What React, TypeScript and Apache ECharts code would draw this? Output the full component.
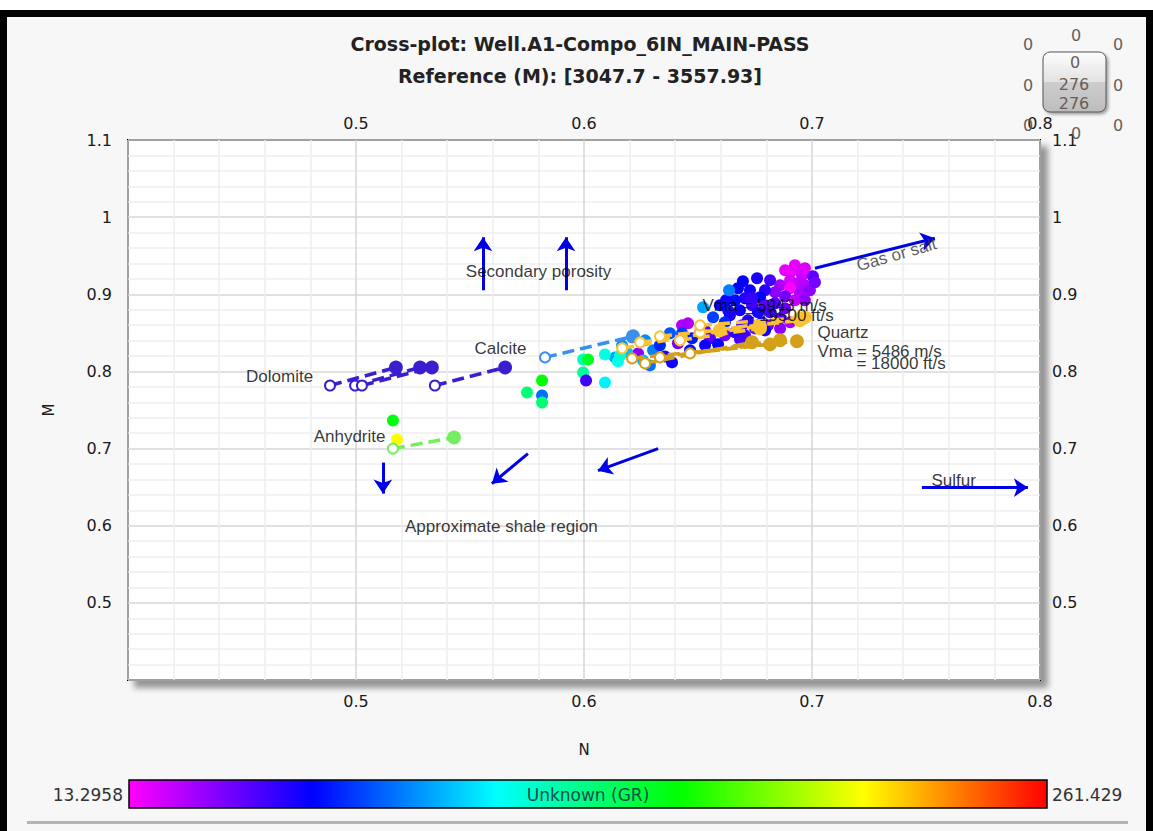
import React, { useEffect, useRef } from "react";
import * as echarts from "echarts";

// ---- Axis ranges ----
const nRange = [0.4, 0.8];
const mRange = [0.4, 1.1];
const grRange = [13.2958, 261.429];

// ---- Log samples: [N, M, GR] ----
const upperCluster = [
  [0.6882, 0.9312, 18], [0.6917, 0.9312, 16], [0.6956, 0.9247, 22], [0.7004, 0.9234, 45],
  [0.6904, 0.9182, 20], [0.6939, 0.9143, 25], [0.686, 0.9117, 30], [0.6969, 0.9117, 28],
  [0.6904, 0.9078, 14], [0.6816, 0.9182, 50], [0.6838, 0.9026, 35], [0.6947, 0.9013, 30],
  [0.6882, 0.8974, 40], [0.6794, 0.9052, 55], [0.6991, 0.9052, 35],
  [0.6925, 0.9377, 18], [0.6969, 0.9338, 20], [0.7013, 0.9156, 40], [0.6925, 0.8922, 25],
  [0.6969, 0.8922, 35],
  [0.6697, 0.9169, 62], [0.6759, 0.9208, 58], [0.6728, 0.9052, 60], [0.6706, 0.8948, 55],
  [0.6772, 0.8961, 63], [0.6737, 0.8857, 50], [0.6794, 0.8857, 45], [0.6838, 0.8883, 48],
  [0.6684, 0.8792, 60], [0.6763, 0.8766, 58], [0.6816, 0.8766, 50], [0.6882, 0.8818, 42],
  [0.6719, 0.8662, 55], [0.6781, 0.8636, 60], [0.686, 0.8688, 45], [0.6662, 0.8922, 65],
  [0.6632, 0.8792, 68], [0.6675, 0.9078, 63], [0.6623, 0.8922, 60], [0.6737, 0.8948, 52],
  [0.6596, 0.8857, 62], [0.664, 0.8727, 58], [0.6693, 0.8597, 50], [0.675, 0.8558, 45],
  [0.6807, 0.8597, 40], [0.686, 0.8558, 35], [0.6904, 0.8636, 30], [0.6794, 0.8532, 60],
  [0.6531, 0.8532, 45], [0.6618, 0.8468, 40], [0.6684, 0.8416, 48],
];

const midCluster = [
  [0.6636, 0.9052, 88], [0.6522, 0.8831, 95], [0.6566, 0.8701, 75], [0.6618, 0.8636, 70],
  [0.6509, 0.8506, 50], [0.6553, 0.8429, 45], [0.6596, 0.8532, 40], [0.6531, 0.8338, 60],
  [0.6588, 0.8351, 62], [0.6662, 0.8506, 55], [0.6706, 0.8468, 50],
  [0.643, 0.8597, 28], [0.6456, 0.8623, 30], [0.6377, 0.8494, 80], [0.643, 0.8494, 75],
  [0.6412, 0.8364, 40], [0.6474, 0.8429, 68], [0.6237, 0.8234, 35], [0.6303, 0.8273, 88],
  [0.6259, 0.8143, 98], [0.6289, 0.8078, 85], [0.6189, 0.8247, 100], [0.6211, 0.8442, 88],
  [0.6333, 0.8338, 70], [0.6355, 0.8195, 55], [0.6386, 0.8117, 60], [0.6465, 0.8273, 65],
  [0.6268, 0.8403, 90], [0.6136, 0.8182, 95], [0.6167, 0.8338, 92],
];

const lowerScatter = [
  [0.6092, 0.8221, 118], [0.6149, 0.813, 115], [0.6092, 0.7857, 110], [0.6158, 0.8208, 120],
  [0.5816, 0.7883, 162], [0.575, 0.7727, 140], [0.5816, 0.7688, 85], [0.5816, 0.7597, 140],
  [0.5996, 0.8156, 125], [0.6018, 0.8156, 155], [0.5996, 0.7987, 132], [0.6009, 0.7883, 50],
  [0.5162, 0.7364, 160], [0.518, 0.7117, 212],
];

// ---- Lithology lines: [start, end] in (N, M) ----
const dolomiteLines = [
  [[0.4886, 0.7818], [0.5175, 0.8052]],
  [[0.4996, 0.7818], [0.5281, 0.8052]],
  [[0.5026, 0.7818], [0.5333, 0.8052]],
  [[0.5346, 0.7818], [0.5654, 0.8052]],
];
const calciteLines = [[[0.5829, 0.8182], [0.6215, 0.8455]]];
const anhydriteLines = [[[0.5162, 0.7], [0.543, 0.7143]]];
const quartzLines = [
  [[0.6167, 0.8299], [0.6596, 0.8532]],
  [[0.6246, 0.8377], [0.6772, 0.8584]],
  [[0.6333, 0.8455], [0.6947, 0.8662]],
  [[0.6509, 0.8506], [0.6947, 0.8688]],
  [[0.6509, 0.8597], [0.6969, 0.8701]],
  [[0.6421, 0.8403], [0.6772, 0.8558]],
];
const quartzLowLines = [
  [[0.6211, 0.8169], [0.6934, 0.839]],
  [[0.6268, 0.8104], [0.6737, 0.8377]],
  [[0.6333, 0.8182], [0.686, 0.8403]],
  [[0.6465, 0.8234], [0.6816, 0.8351]],
];

// ---- Trend arrows ----
const trendArrows = [
  [[0.5557, 0.9052], [0.5557, 0.974]],
  [[0.5921, 0.9052], [0.5921, 0.974]],
  [[0.5118, 0.6818], [0.5118, 0.6416]],
  [[0.5754, 0.6935], [0.5596, 0.6545]],
  [[0.6325, 0.7], [0.6061, 0.6714]],
  [[0.7013, 0.9338], [0.7539, 0.9727]],
  [[0.7482, 0.6494], [0.7947, 0.6494]],
];

// ---- Annotation texts: [text, N, M, align] ----
const notes = [
  ["Secondary porosity", 0.5803, 0.9286, "center"],
  ["Calcite", 0.5636, 0.8286, "center"],
  ["Dolomite", 0.4667, 0.7922, "center"],
  ["Anhydrite", 0.4974, 0.7156, "center"],
  ["Approximate shale region", 0.564, 0.5987, "center"],
  ["Quartz", 0.7026, 0.8494, "left"],
  ["Vma = 5486 m/s", 0.7026, 0.8247, "left"],
  ["= 18000 ft/s", 0.7197, 0.8091, "left"],
  ["Vma = 5943 m/s", 0.6522, 0.8844, "left"],
  ["= 19500 ft/s", 0.6706, 0.8714, "left"],
  ["Sulfur", 0.7526, 0.6584, "left"],
];
const gasNote = ["Gas or salt", 0.7373, 0.9506];

const colorStops = ["#ff00ff", "#0000ff", "#00ffff", "#00ff00", "#ffff00", "#ff0000"];

const tickFont = "DejaVu Sans";
const noteFont = "Liberation Sans";

function tickLabel(v: number) {
  if (Math.abs(v - 0.4) < 1e-6) return "";
  return String(+v.toFixed(1));
}

function lithSeries(lines: number[][][], color: string) {
  return lines.map((ln) => ({
    type: "line",
    xAxisIndex: 0,
    yAxisIndex: 0,
    z: 4,
    silent: true,
    showSymbol: true,
    data: [
      { value: ln[0], symbol: "emptyCircle", symbolSize: 10 },
      { value: ln[1], symbol: "circle", symbolSize: 12 },
    ],
    lineStyle: { color, width: 3.5, type: [12, 6] },
    itemStyle: { color, borderColor: color, borderWidth: 1.8 },
  }));
}

export default function App() {
  const ref = useRef<HTMLDivElement>(null);

  useEffect(() => {
    document.body.style.margin = "0";
    if (!ref.current) return;
    const chart = echarts.init(ref.current, undefined, { renderer: "svg" });

    const axisLabel = { color: "#1a1a1a", fontSize: 16, fontFamily: tickFont, formatter: tickLabel };
    const gradient = new echarts.graphic.LinearGradient(
      0, 0, 1, 0,
      colorStops.map((c, i) => ({ offset: i / (colorStops.length - 1), color: c }))
    );
    const widgetText = (t: string, x: number, y: number) => ({
      type: "text",
      x,
      y,
      z: 101,
      style: { text: t, fill: "#6a5c58", font: `16px ${tickFont}`, align: "center", verticalAlign: "middle" },
    });

    chart.setOption({
      animation: false,
      backgroundColor: "#f7f7f7",
      grid: {
        show: true,
        left: 128,
        top: 140,
        width: 912,
        height: 540,
        backgroundColor: "#ffffff",
        borderColor: "#000",
        borderWidth: 2,
        shadowColor: "rgba(0,0,0,0.4)",
        shadowBlur: 6,
        shadowOffsetX: 7,
        shadowOffsetY: 7,
      },
      xAxis: [
        {
          type: "value",
          position: "bottom",
          min: nRange[0],
          max: nRange[1],
          interval: 0.1,
          name: "N",
          nameLocation: "middle",
          nameGap: 62,
          nameTextStyle: { color: "#1a1a1a", fontSize: 15, fontFamily: tickFont },
          axisLine: { show: false },
          axisTick: { show: false },
          axisLabel: { ...axisLabel, margin: 13 },
          splitLine: { show: true, lineStyle: { color: "#d6d6d6", width: 1.5 } },
          minorTick: { show: false, splitNumber: 5 },
          minorSplitLine: { show: true, lineStyle: { color: "#eeeeee", width: 1.5 } },
        },
        {
          type: "value",
          position: "top",
          min: nRange[0],
          max: nRange[1],
          interval: 0.1,
          axisLine: { show: false },
          axisTick: { show: false },
          axisLabel: { ...axisLabel, margin: 9 },
          splitLine: { show: false },
        },
      ],
      yAxis: [
        {
          type: "value",
          position: "left",
          min: mRange[0],
          max: mRange[1],
          interval: 0.1,
          name: "M",
          nameLocation: "middle",
          nameGap: 72,
          nameRotate: 90,
          nameTextStyle: { color: "#1a1a1a", fontSize: 15, fontFamily: tickFont },
          axisLine: { show: false },
          axisTick: { show: false },
          axisLabel: { ...axisLabel, margin: 16 },
          splitLine: { show: true, lineStyle: { color: "#d6d6d6", width: 1.5 } },
          minorTick: { show: false, splitNumber: 5 },
          minorSplitLine: { show: true, lineStyle: { color: "#eeeeee", width: 1.5 } },
        },
        {
          type: "value",
          position: "right",
          min: mRange[0],
          max: mRange[1],
          interval: 0.1,
          axisLine: { show: false },
          axisTick: { show: false },
          axisLabel: { ...axisLabel, margin: 12 },
          splitLine: { show: false },
        },
      ],
      visualMap: {
        type: "continuous",
        show: false,
        min: grRange[0],
        max: grRange[1],
        dimension: 2,
        seriesIndex: 0,
        inRange: { color: colorStops },
      },
      series: [
        {
          type: "scatter",
          name: "GR",
          z: 3,
          symbol: "circle",
          symbolSize: 12,
          data: [...upperCluster, ...midCluster, ...lowerScatter],
          itemStyle: { opacity: 1 },
        },
        ...lithSeries(dolomiteLines, "#3a1fcf"),
        ...lithSeries(calciteLines, "#3a8ff0"),
        ...lithSeries(anhydriteLines, "#72ee5e"),
        ...lithSeries(quartzLowLines, "#d4a01a"),
        ...lithSeries(quartzLines, "#f9c235"),
        {
          type: "lines",
          coordinateSystem: "cartesian2d",
          z: 6,
          silent: true,
          symbol: ["none", "arrow"],
          symbolSize: 14,
          lineStyle: { color: "#0000e6", width: 3, opacity: 1, curveness: 0 },
          data: trendArrows.map((c) => ({ coords: c })),
        },
        {
          type: "scatter",
          name: "notes",
          z: 8,
          silent: true,
          symbolSize: 1,
          itemStyle: { color: "rgba(0,0,0,0)" },
          label: {
            show: true,
            formatter: "{b}",
            position: [0, 0],
            verticalAlign: "middle",
            color: "#000",
            fontSize: 17,
            fontFamily: noteFont,
          },
          data: [
            ...notes.map((n) => ({
              name: n[0],
              value: [n[1], n[2]],
              label: { align: n[3] },
            })),
            {
              name: gasNote[0],
              value: [gasNote[1], gasNote[2]],
              label: { align: "center", rotate: 16, color: "#333" },
            },
          ],
        },
      ],
      graphic: [
        // frame
        { type: "rect", z: 100, shape: { x: 0, y: 0, width: 1153, height: 10 }, style: { fill: "#ffffff" } },
        { type: "rect", z: 100, shape: { x: 0, y: 10, width: 1153, height: 7 }, style: { fill: "#000" } },
        { type: "rect", z: 100, shape: { x: 0, y: 10, width: 7, height: 821 }, style: { fill: "#000" } },
        { type: "rect", z: 100, shape: { x: 1146, y: 10, width: 7, height: 821 }, style: { fill: "#000" } },
        // titles
        {
          type: "text", x: 580, y: 44, z: 100,
          style: { text: "Cross-plot: Well.A1-Compo_6IN_MAIN-PASS", font: `bold 19px ${tickFont}`, fill: "#222", align: "center", verticalAlign: "middle" },
        },
        {
          type: "text", x: 580, y: 76, z: 100,
          style: { text: "Reference (M): [3047.7 - 3557.93]", font: `bold 19px ${tickFont}`, fill: "#222", align: "center", verticalAlign: "middle" },
        },
        // record counter
        {
          type: "rect", z: 100,
          shape: { x: 1043, y: 52, width: 63, height: 60, r: 7 },
          style: {
            fill: new echarts.graphic.LinearGradient(0, 0, 0, 1, [
              { offset: 0, color: "#fdfdfd" },
              { offset: 0.5, color: "#e2e2e2" },
              { offset: 0.5, color: "#cdcdcd" },
              { offset: 1, color: "#bdbdbd" },
            ]),
            stroke: "#555",
            lineWidth: 1,
            shadowColor: "rgba(0,0,0,0.35)",
            shadowBlur: 3,
            shadowOffsetX: 2,
            shadowOffsetY: 2,
          },
        },
        widgetText("0", 1075, 62),
        widgetText("276", 1074, 84),
        widgetText("276", 1074, 103),
        widgetText("0", 1076, 35),
        widgetText("0", 1028, 44),
        widgetText("0", 1118, 44),
        widgetText("0", 1028, 85),
        widgetText("0", 1118, 85),
        widgetText("0", 1028, 125),
        widgetText("0", 1118, 125),
        widgetText("0", 1076, 133),
        // colour scale
        {
          type: "rect", z: 100,
          shape: { x: 129, y: 780, width: 918, height: 28 },
          style: { fill: gradient, stroke: "#000", lineWidth: 1.5 },
        },
        {
          type: "text", x: 588, y: 795, z: 101,
          style: { text: "Unknown (GR)", font: `17px ${tickFont}`, fill: "#0b4f4f", align: "center", verticalAlign: "middle" },
        },
        {
          type: "text", x: 123, y: 795, z: 101,
          style: { text: String(grRange[0]), font: `17px ${tickFont}`, fill: "#333", align: "right", verticalAlign: "middle" },
        },
        {
          type: "text", x: 1052, y: 795, z: 101,
          style: { text: String(grRange[1]), font: `17px ${tickFont}`, fill: "#333", align: "left", verticalAlign: "middle" },
        },
        {
          type: "rect", z: 100,
          shape: { x: 27, y: 821, width: 1101, height: 3 },
          style: { fill: "#b4b4b4" },
        },
      ],
    });

    return () => chart.dispose();
  }, []);

  return <div ref={ref} style={{ width: 1153, height: 831 }} />;
}
